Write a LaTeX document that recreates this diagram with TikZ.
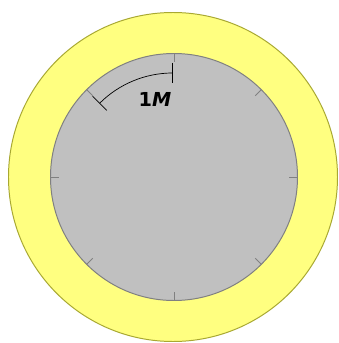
\documentclass[tikz,border=0pt]{standalone}
\usepackage{fontspec}
\setmainfont{DejaVu Sans}
\usetikzlibrary{arrows.meta}
\definecolor{jaune}{HTML}{FFFF80}
\definecolor{jaunefonce}{HTML}{A8A832}
\definecolor{grisclair}{HTML}{C0C0C0}
\definecolor{gris}{HTML}{808080}
\tikzset{
  anneau/.style={draw=jaunefonce,fill=jaune,line width=0.7pt},
  disque/.style={draw=gris,fill=grisclair,line width=0.7pt},
  graduation/.style={draw=gris,line width=0.7pt},
  cote/.style={{Bar[width=0.5cm]}-{Bar[width=0.5cm]},line width=0.5pt,black},
}

\begin{document}
\begin{tikzpicture}[x=0.025cm,y=0.025cm]
  \useasboundingbox (-173,-166) rectangle (165,177);
  \fill[white] (-173,-166) rectangle (165,177);
  \draw[anneau] (0,0) circle (164.5);
  \draw[disque] (1,0) circle (123.5);
  \foreach \a in {0,45,...,315} \draw[graduation] ([xshift=0.025cm]\a:123.5) -- ([xshift=0.025cm]\a:115);
  \draw[cote] (90:104) arc (90:135:104);
  \node[font=\fontsize{13.7}{14}\selectfont\bfseries] (mesure) at (-18,77.5) {1\textit{M}};
\end{tikzpicture}
\end{document}
